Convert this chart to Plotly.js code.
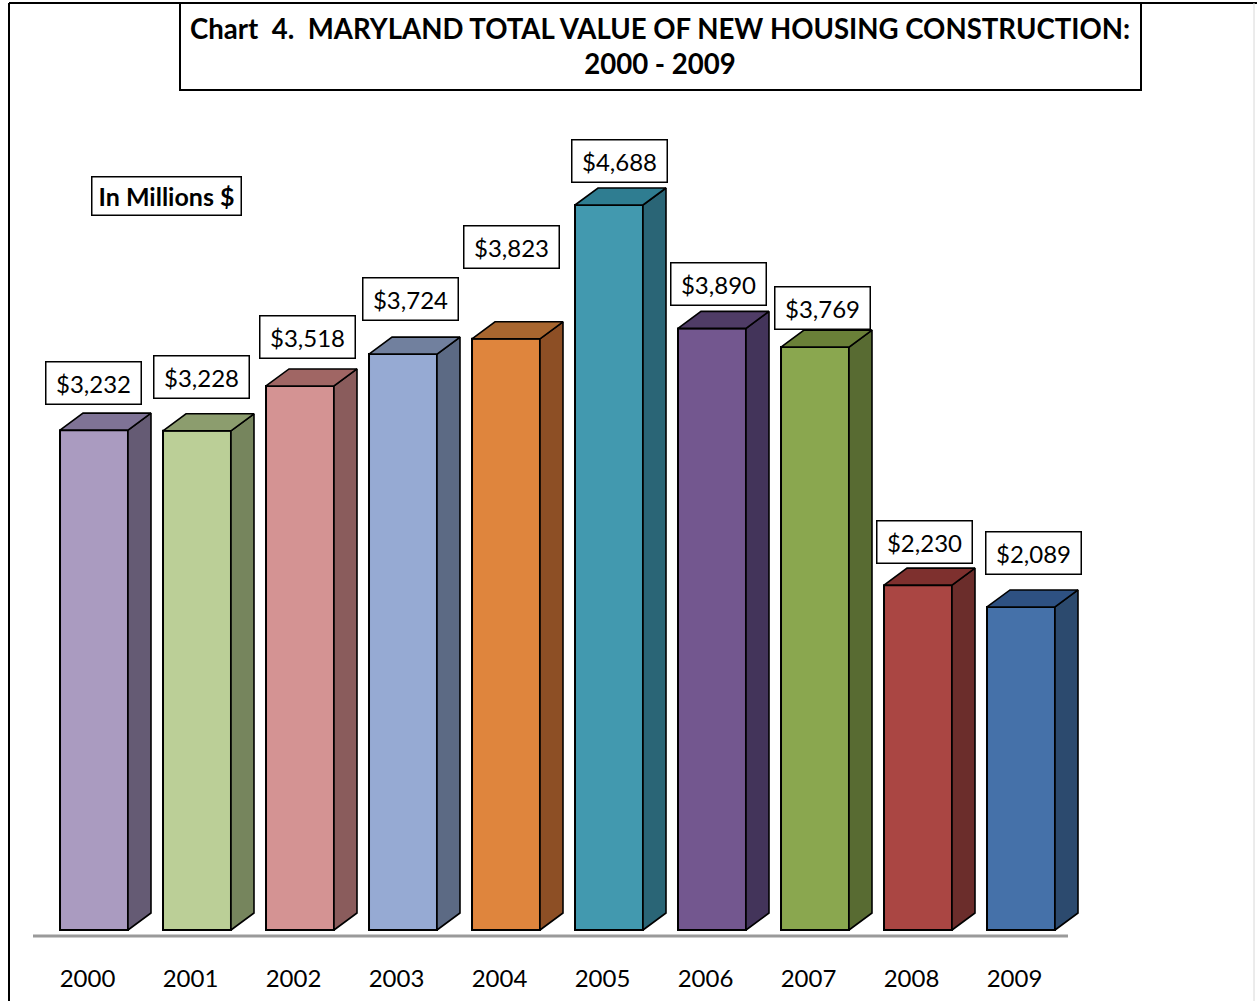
<!DOCTYPE html>
<html>
<head>
<meta charset="utf-8">
<script src="https://cdn.plot.ly/plotly-3.0.1.min.js"></script>
<style>html,body{margin:0;padding:0;background:#fff;}#chart{width:1257px;height:1001px;}</style>
</head>
<body>
<div id="chart"></div>
<script>
// ---- data ----
const years = ['2000','2001','2002','2003','2004','2005','2006','2007','2008','2009'];
const values = [3232, 3228, 3518, 3724, 3823, 4688, 3890, 3769, 2230, 2089];
const valueLabels = ['$3,232','$3,228','$3,518','$3,724','$3,823','$4,688','$3,890','$3,769','$2,230','$2,089'];

// ---- styles ----
const frontColors = ['#AA9BC0','#BBCF97','#D49393','#96AAD3','#DF853D','#4299AF','#73578F','#8AA74F','#AA4643','#4571A9'];
const topColors   = ['#7F7396','#8C9D6E','#A06664','#71809E','#A8662F','#2F7D91','#4F3C66','#6A8038','#7E302E','#2E5182'];
const sideColors  = ['#655B74','#76855D','#8A5C5C','#5C6A84','#8D4F25','#2A6576','#43345A','#586B32','#6B2D2B','#2C4A6E'];
const labelDx = [-1, 4, 7, 7, 5, 10, 6, 7, 6, 12];      // px
const labelDy = [47, 54, 49, 55, 92, 44, 44, 39, 43, 54]; // px above front top

const W = 1257, H = 1001;
const L = 33, R = 1110, T = 100, B = 936;
const groundL = 33, groundR = 1068;
const zeroPx = 930, slotPx = 103, firstCenterPx = 94;
const k = 0.15465; // px per unit
const xr = [(L - firstCenterPx) / slotPx, (R - firstCenterPx) / slotPx];
const yr = [(zeroPx - B) / k, (zeroPx - T) / k];
const halfW = 0.33;
const dx = 23 / slotPx;
const dy = 17 / k;

const xs = years.map((_, i) => i);
const traces = [];
traces.push({
  type: 'bar', x: xs, y: values, width: 2 * halfW,
  marker: {color: frontColors, line: {color: '#000', width: 2}},
  hoverinfo: 'skip'
});
values.forEach((v, i) => {
  const xl = i - halfW, xrr = i + halfW;
  traces.push({
    type: 'scatter', mode: 'lines', fill: 'toself', fillcolor: sideColors[i],
    x: [xrr, xrr + dx, xrr + dx, xrr, xrr],
    y: [0, dy, v + dy, v, 0],
    line: {color: '#000', width: 1.6}, hoverinfo: 'skip'
  });
  traces.push({
    type: 'scatter', mode: 'lines', fill: 'toself', fillcolor: topColors[i],
    x: [xl, xl + dx, xrr + dx, xrr, xl],
    y: [v, v + dy, v + dy, v, v],
    line: {color: '#000', width: 1.6}, hoverinfo: 'skip'
  });
});

const px = p => (p - L) / (R - L);
const py = p => (B - p) / (B - T);
const FONT = 'Lato, "Open Sans", sans-serif';

const annotations = values.map((v, i) => ({
  x: i, y: v, xref: 'x', yref: 'y', text: valueLabels[i], showarrow: false,
  xanchor: 'center', yanchor: 'middle', xshift: labelDx[i], yshift: labelDy[i],
  font: {family: FONT, size: 24, color: '#000'},
  bordercolor: '#000', borderwidth: 1.5, borderpad: 5, bgcolor: '#fff',
  width: 84, height: 31
}));
annotations.push({
  x: px(166.5), y: py(196), xref: 'paper', yref: 'paper', text: '<b>In Millions $</b>',
  showarrow: false, xanchor: 'center', yanchor: 'middle',
  font: {family: FONT, size: 25, color: '#000'},
  bordercolor: '#000', borderwidth: 1.5, borderpad: 4, bgcolor: '#fff',
  width: 140, height: 29
});

const shapes = [
  {type: 'line', xref: 'paper', yref: 'paper', layer: 'below', x0: px(groundL), x1: px(groundR), y0: py(936), y1: py(936), line: {color: '#9a9a9a', width: 3}},
  {type: 'rect', xref: 'paper', yref: 'paper', x0: px(180), x1: px(1141), y0: py(3), y1: py(90), line: {color: '#000', width: 2}},
  {type: 'line', xref: 'paper', yref: 'paper', x0: px(9), x1: px(1257), y0: py(3), y1: py(3), line: {color: '#000', width: 2}},
  {type: 'line', xref: 'paper', yref: 'paper', x0: px(9), x1: px(9), y0: py(3), y1: py(1001), line: {color: '#000', width: 2}},
  {type: 'line', xref: 'paper', yref: 'paper', x0: px(1254), x1: px(1254), y0: py(3), y1: py(1001), line: {color: '#d8d8d8', width: 1}}
];

const layout = {
  width: W, height: H,
  margin: {l: L, r: W - R, t: T, b: H - B, pad: 0},
  paper_bgcolor: '#fff', plot_bgcolor: '#fff',
  showlegend: false,
  title: {
    text: '<b>Chart  4.  MARYLAND TOTAL VALUE OF NEW HOUSING CONSTRUCTION:<br>2000 - 2009</b>',
    x: 660 / W, xanchor: 'center', y: 1 - 38.5 / H, yanchor: 'middle',
    font: {family: FONT, size: 27.6, color: '#000'}
  },
  xaxis: {
    range: xr, tickvals: xs.map(i => i - 0.063), ticktext: years,
    showgrid: false, zeroline: false, showline: false,
    ticks: '', ticklabelstandoff: 26,
    tickfont: {family: FONT, size: 24, color: '#000'},
    fixedrange: true
  },
  yaxis: {range: yr, visible: false, fixedrange: true},
  annotations: annotations,
  shapes: shapes
};

Plotly.newPlot('chart', traces, layout, {staticPlot: true, displayModeBar: false});
</script>
</body>
</html>
